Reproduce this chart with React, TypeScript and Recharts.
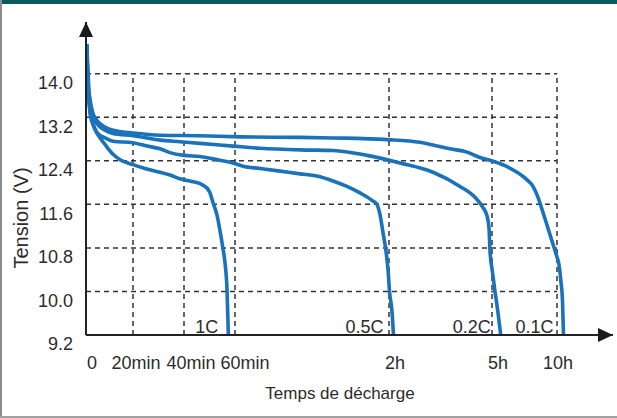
import { LineChart, Line, XAxis, YAxis, ReferenceLine, ReferenceDot } from "recharts";

// Discharge curves of a 12 V battery at four C-rates.
// Each point is [time in minutes, tension in volts].
const CURVE_1C: [number, number][] = [
  [0.3, 14.54], [1.0, 13.9], [1.7, 13.27], [3.8, 12.98], [6.0, 12.82], [8.1, 12.7],
  [11.5, 12.52], [14.5, 12.42], [20, 12.33], [24.7, 12.26], [30.6, 12.19], [34.5, 12.14],
  [38.4, 12.07], [43.1, 12.02], [46.3, 11.98], [47.8, 11.94], [49.0, 11.9], [50.2, 11.81],
  [51.4, 11.63], [52.9, 11.41], [54.1, 11.12], [55.3, 10.78], [56.1, 10.52], [56.9, 10.0],
  [57.4, 9.2],
];

const CURVE_05C: [number, number][] = [
  [0.3, 14.54], [0.85, 13.68], [1.7, 13.33], [3.0, 13.08], [4.7, 12.92], [8.1, 12.82],
  [11.5, 12.76], [20, 12.73], [24.7, 12.68], [30.6, 12.62], [34.5, 12.55], [40, 12.5],
  [46.3, 12.48], [54.1, 12.41], [59.2, 12.36], [63.1, 12.3], [69.7, 12.26], [77.6, 12.21],
  [85.3, 12.16], [91.9, 12.12], [98.2, 12.03], [103.6, 11.93], [108.7, 11.81], [113.8, 11.66],
  [115.3, 11.6], [116.5, 11.41], [117.7, 11.07], [118.8, 10.75], [119.7, 10.35], [120.9, 10.0],
  [125.2, 9.64], [127.8, 9.2],
];

const CURVE_02C: [number, number][] = [
  [0.3, 14.54], [0.85, 13.78], [1.7, 13.46], [3.0, 13.22], [4.7, 13.08], [8.1, 12.96],
  [11.5, 12.9], [20, 12.86], [30.6, 12.78], [38.4, 12.75], [46.3, 12.72], [59.2, 12.67],
  [69.7, 12.63], [85.3, 12.6], [98.2, 12.59], [111.4, 12.5], [139.2, 12.36], [196.9, 12.19],
  [244.1, 11.93], [270.3, 11.73], [284.3, 11.54], [291.3, 11.39], [294.8, 11.16], [296.5, 10.75],
  [302.3, 10.35], [313.8, 10.0], [327.7, 9.61], [340.2, 9.2],
];

const CURVE_01C: [number, number][] = [
  [0.3, 14.54], [0.85, 13.87], [1.7, 13.53], [3.0, 13.27], [4.7, 13.14], [8.1, 13.02],
  [11.5, 12.96], [20, 12.91], [30.6, 12.87], [46.3, 12.86], [61.9, 12.84], [85.3, 12.83],
  [98.2, 12.82], [119.2, 12.79], [174.2, 12.74], [196.9, 12.69], [226.6, 12.62], [256.3, 12.56],
  [279.0, 12.46], [296.5, 12.41], [360, 12.31], [415.4, 12.19], [461.5, 12.05], [489.2, 11.93],
  [512.3, 11.73], [535.4, 11.45], [558.5, 11.16], [581.5, 10.87], [597.7, 10.66], [609.2, 10.49],
  [618.5, 10.17], [625.4, 9.82], [630, 9.2],
];

const RATES = ["1C", "0.5C", "0.2C", "0.1C"];
const CURVES = [CURVE_1C, CURVE_05C, CURVE_02C, CURVE_01C];

// time ticks (minutes) and their labels
const TIME_TICKS = [0, 20, 40, 60, 120, 300, 600];
const TIME_LABELS = ["0", "20min", "40min", "60min", "2h", "5h", "10h"];
const VOLT_TICKS = [9.2, 10.0, 10.8, 11.6, 12.4, 13.2, 14.0];

// the time axis is not linear: each tick gets its own spot along the axis
const TICK_SPOTS = [0, 47, 98, 149, 303, 406, 471];
const AXIS_END = 527;
// small horizontal shift of each time label off its gridline
const LABEL_NUDGE = [6, 3, 7, 10, 6, 6, 1];

const toAxis = (t: number) => {
  const n = TIME_TICKS.length;
  let i = 0;
  while (i < n - 2 && t > TIME_TICKS[i + 1]) i++;
  const f = (t - TIME_TICKS[i]) / (TIME_TICKS[i + 1] - TIME_TICKS[i]);
  return TICK_SPOTS[i] + f * (TICK_SPOTS[i + 1] - TICK_SPOTS[i]);
};

const BLUE = "#1a72ba";
const INK = "#2b2b2b";
const FONT = "'Liberation Sans', Arial, sans-serif";

const XTick = (props: any) => {
  const { x, y, payload } = props;
  const idx = TICK_SPOTS.indexOf(payload.value);
  return (
    <text
      x={x + LABEL_NUDGE[idx]}
      y={y + 28}
      dy="0.355em"
      textAnchor="middle"
      fill={INK}
      fontSize={18}
      fontFamily={FONT}
    >
      {TIME_LABELS[idx]}
    </text>
  );
};

const YTick = (props: any) => {
  const { x, y, payload } = props;
  return (
    <text x={x} y={y + 9} dy="0.355em" textAnchor="end" fill={INK} fontSize={18} fontFamily={FONT}>
      {Number(payload.value).toFixed(1)}
    </text>
  );
};

const gridStyle = { stroke: "#333", strokeWidth: 1.5, strokeDasharray: "5 4" };

export default function App() {
  const lastTick = TICK_SPOTS[TICK_SPOTS.length - 1];
  return (
    <div style={{ position: "relative", width: 617, height: 418, background: "#fff" }}>
      <style>{"body{margin:0}"}</style>
      <LineChart width={617} height={418} margin={{ top: 22, right: 4, bottom: 23, left: 0 }}>
        <XAxis
          type="number"
          dataKey="u"
          domain={[0, AXIS_END]}
          ticks={TICK_SPOTS}
          interval={0}
          allowDataOverflow
          height={60}
          tickLine={false}
          tickSize={0}
          tickMargin={0}
          tick={<XTick />}
          axisLine={{ stroke: "#222", strokeWidth: 2 }}
          label={() => (
            <text x={340} y={393} dy="0.355em" textAnchor="middle" fill={INK} fontSize={17} fontFamily={FONT}>
              Temps de décharge
            </text>
          )}
        />
        <YAxis
          type="number"
          domain={[9.2, 14.95]}
          ticks={VOLT_TICKS}
          interval={0}
          width={86}
          tickLine={false}
          tickSize={0}
          tickMargin={13}
          tick={<YTick />}
          axisLine={{ stroke: "#222", strokeWidth: 2 }}
          label={() => (
            <text
              x={21}
              y={218}
              dy="0.355em"
              transform="rotate(-90, 21, 218)"
              textAnchor="middle"
              fill={INK}
              fontSize={20}
              fontFamily={FONT}
            >
              Tension (V)
            </text>
          )}
        />

        {VOLT_TICKS.slice(1).map((v) => (
          <ReferenceLine key={`h${v}`} segment={[{ x: 0, y: v }, { x: lastTick, y: v }]} {...gridStyle} />
        ))}
        {TICK_SPOTS.slice(1).map((u) => (
          <ReferenceLine key={`v${u}`} segment={[{ x: u, y: 9.2 }, { x: u, y: 14.0 }]} {...gridStyle} />
        ))}

        {CURVES.map((pts, k) => {
          const data = pts.map(([t, v]) => ({ u: toAxis(t), v }));
          const last = data.length - 1;
          return (
            <Line
              key={RATES[k]}
              data={data}
              dataKey="v"
              type="monotone"
              stroke={BLUE}
              strokeWidth={3.6}
              dot={false}
              activeDot={false}
              isAnimationActive={false}
              label={(p: any) =>
                p.index === last ? (
                  <text
                    key={`lbl${k}`}
                    x={p.x - 10}
                    y={p.y - 8}
                    dy="0.355em"
                    textAnchor="end"
                    fill={INK}
                    fontSize={18}
                    fontFamily={FONT}
                  >
                    {RATES[k]}
                  </text>
                ) : (
                  <g key={`lbl${k}-${p.index}`} />
                )
              }
            />
          );
        })}

        {/* arrow heads on both axes */}
        <ReferenceDot
          x={0}
          y={14.95}
          r={0}
          shape={(p: any) => (
            <polygon points={`${p.cx},${p.cy} ${p.cx - 7},${p.cy + 15} ${p.cx + 7},${p.cy + 15}`} fill="#1a1a1a" />
          )}
        />
        <ReferenceDot
          x={AXIS_END}
          y={9.2}
          r={0}
          shape={(p: any) => (
            <polygon points={`${p.cx},${p.cy} ${p.cx - 15},${p.cy - 7} ${p.cx - 15},${p.cy + 7}`} fill="#1a1a1a" />
          )}
        />
      </LineChart>
      <div style={{ position: "absolute", left: 0, top: 0, width: 617, height: 4, background: "#0b5a62" }} />
      <div style={{ position: "absolute", left: 0, top: 0, width: 2, height: 418, background: "#8c8c8c" }} />
      <div style={{ position: "absolute", left: 0, top: 416, width: 617, height: 2, background: "#a0a0a0" }} />
    </div>
  );
}
